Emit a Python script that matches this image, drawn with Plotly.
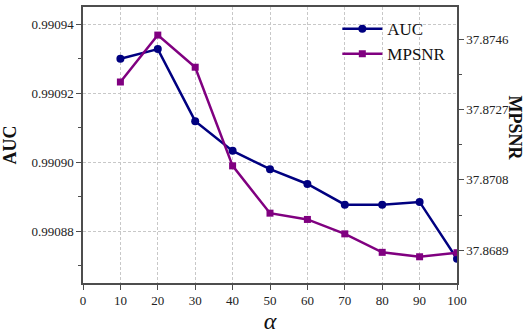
import plotly.graph_objects as go

alpha = [10, 20, 30, 40, 50, 60, 70, 80, 90, 100]
auc = [0.990930, 0.9909328, 0.9909119, 0.9909033, 0.990898, 0.9908937, 0.9908877, 0.9908877, 0.9908885, 0.990872]
mpsnr = [37.87345, 37.87472, 37.87385, 37.87118, 37.86990, 37.86973, 37.86934, 37.86884, 37.86872, 37.86883]

x_ticks = list(range(0, 101, 10))
auc_ticks = [0.99088, 0.99090, 0.99092, 0.99094]
auc_tick_text = ["0.99088", "0.99090", "0.99092", "0.99094"]
mpsnr_ticks = [37.8689, 37.8708, 37.8727, 37.8746]
mpsnr_tick_text = ["37.8689", "37.8708", "37.8727", "37.8746"]

FONT = "Liberation Serif, Times New Roman, serif"
AXC = "#4d4d4d"
GRIDC = "#c8c8c8"
TICKFONT = dict(family=FONT, size=13, color="#222222")

fig = go.Figure()
fig.add_trace(go.Scatter(
    x=alpha, y=auc, name="AUC", mode="lines+markers",
    line=dict(color="#000080", width=2.5),
    marker=dict(symbol="circle", size=8, color="#000080"),
    yaxis="y"))
fig.add_trace(go.Scatter(
    x=alpha, y=mpsnr, name="MPSNR", mode="lines+markers",
    line=dict(color="#800080", width=2.5),
    marker=dict(symbol="square", size=7, color="#800080"),
    yaxis="y2"))

fig.update_layout(
    width=527, height=335,
    margin=dict(l=83, r=70, t=5, b=52),
    plot_bgcolor="white", paper_bgcolor="white",
    font=dict(family=FONT, size=13, color="#222222"),
    showlegend=True,
    legend=dict(x=0.68, y=0.985, xanchor="left", yanchor="top",
                bgcolor="rgba(0,0,0,0)", font=dict(family=FONT, size=17, color="#111"),
                itemwidth=40, tracegroupgap=2),
    xaxis=dict(range=[0, 100], tickmode="array", tickvals=x_ticks, ticktext=[str(v) for v in x_ticks],
               ticks="outside", ticklen=5,
               tickcolor=AXC, showline=True, linecolor=AXC, linewidth=1.5, mirror=True,
               showgrid=True, gridcolor=GRIDC, griddash="3px,2px", gridwidth=1,
               zeroline=False, tickfont=TICKFONT,
               title=dict(text="<i>α</i>", font=dict(size=24, family=FONT, color="#111"), standoff=0)),
    yaxis=dict(range=[0.990865, 0.990945], tickmode="array", tickvals=auc_ticks, ticktext=auc_tick_text,
               ticks="outside", ticklen=5, tickcolor=AXC,
               minor=dict(ticks="outside", ticklen=3, tickcolor=AXC, dtick=0.00001, tick0=0.99088, showgrid=False),
               showline=True, linecolor=AXC, linewidth=1.5,
               showgrid=True, gridcolor=GRIDC, griddash="3px,2px", gridwidth=1,
               zeroline=False, tickfont=TICKFONT,
               title=dict(text="<b>AUC</b>", font=dict(size=18, family=FONT, color="#111"), standoff=10)),
    yaxis2=dict(range=[37.86801, 37.87548], tickmode="array", tickvals=mpsnr_ticks, ticktext=mpsnr_tick_text,
                overlaying="y", side="right",
                ticks="outside", ticklen=5, tickcolor=AXC,
                minor=dict(ticks="outside", ticklen=3, tickcolor=AXC, dtick=0.00095, tick0=37.8689, showgrid=False),
                showline=True, linecolor=AXC, linewidth=1.5,
                showgrid=False, zeroline=False, tickfont=TICKFONT),
)

fig.add_annotation(text="<b>MPSNR</b>", xref="paper", yref="paper",
                   x=1.155, y=0.56, xanchor="center", yanchor="middle",
                   showarrow=False, textangle=90,
                   font=dict(size=18, family=FONT, color="#111"))

fig.write_html("out.html")
